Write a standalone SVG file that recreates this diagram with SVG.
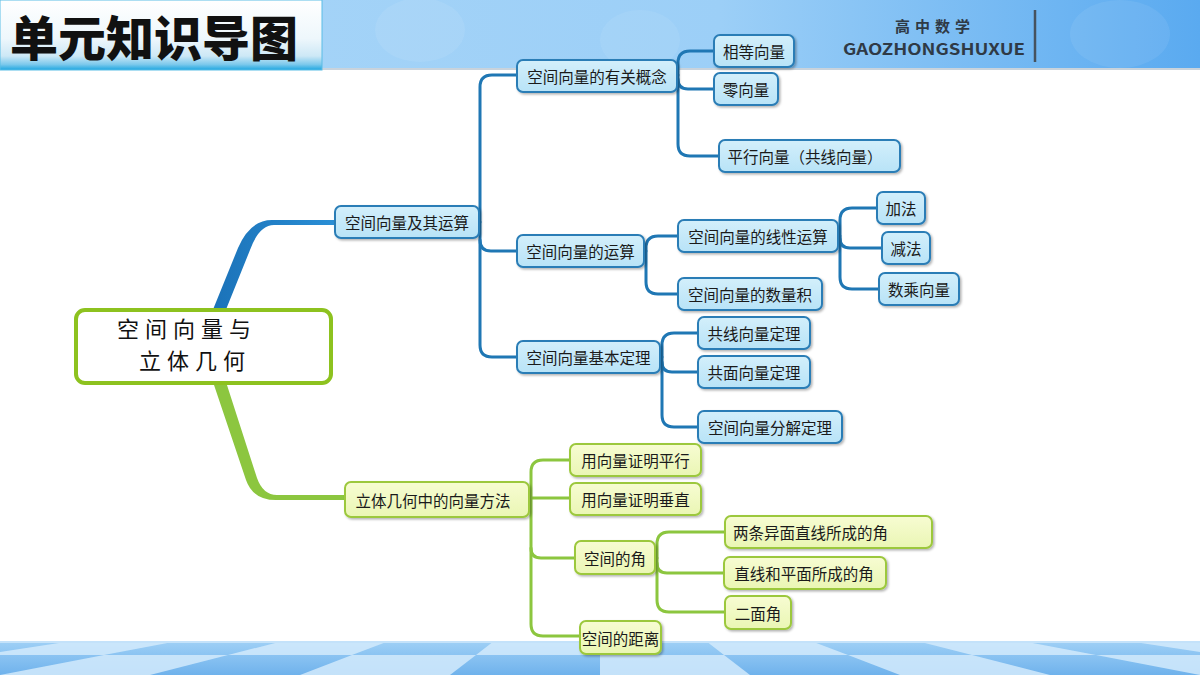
<svg xmlns="http://www.w3.org/2000/svg" width="1200" height="675" viewBox="0 0 1200 675">
<defs>
<linearGradient id="hdr" x1="0" y1="0" x2="1" y2="0">
<stop offset="0" stop-color="#a9d6f8"/><stop offset="0.6" stop-color="#9ccff7"/><stop offset="1" stop-color="#5aaaf0"/>
</linearGradient>
<linearGradient id="ttl" x1="0" y1="0" x2="0" y2="1">
<stop offset="0" stop-color="#ffffff"/><stop offset="0.55" stop-color="#eef7fc"/><stop offset="0.8" stop-color="#cde8f6"/><stop offset="0.92" stop-color="#7cc9ec"/><stop offset="1" stop-color="#1ea6e0"/>
</linearGradient>
<linearGradient id="floor" x1="0" y1="0" x2="0" y2="1">
<stop offset="0" stop-color="#9fd0f6"/><stop offset="1" stop-color="#6fb2ec"/>
</linearGradient>
<linearGradient id="bfill" x1="0" y1="0" x2="0" y2="1">
<stop offset="0" stop-color="#d3effb"/><stop offset="1" stop-color="#b8e3f7"/>
</linearGradient>
<linearGradient id="gfill" x1="0" y1="0" x2="0" y2="1">
<stop offset="0" stop-color="#f7fcd2"/><stop offset="1" stop-color="#eaf6b4"/>
</linearGradient>
<linearGradient id="bbr" x1="0" y1="0" x2="1" y2="0">
<stop offset="0" stop-color="#1b72b8"/><stop offset="1" stop-color="#2a8fd6"/>
</linearGradient>
<filter id="sh" x="-10%" y="-20%" width="130%" height="150%">
<feDropShadow dx="1.5" dy="1.5" stdDeviation="1" flood-color="#000" flood-opacity="0.3"/>
</filter>
</defs>
<style>
.bn rect{fill:url(#bfill);stroke:#2a7db6;stroke-width:2;filter:url(#sh)}
.gn rect{fill:url(#gfill);stroke:#9cc83c;stroke-width:2;filter:url(#sh)}
text{font-family:"Noto Sans CJK SC","Noto Sans",sans-serif}
.bn text,.gn text{font-size:15.5px;fill:#1a1a1a;text-anchor:middle;dominant-baseline:central}
.gn text.l{text-anchor:start}
.bl{fill:none;stroke:#1f77b4;stroke-width:3;stroke-linecap:round}
.gl{fill:none;stroke:#8cc63f;stroke-width:3;stroke-linecap:round}
.tile{fill:#d2eafc;opacity:0.85}
</style>

<!-- header -->
<g id="header">
<rect x="0" y="0" width="1200" height="68" fill="url(#hdr)"/>
<ellipse cx="420" cy="30" rx="45" ry="32" fill="#ffffff" opacity="0.08"/>
<ellipse cx="640" cy="40" rx="40" ry="30" fill="#ffffff" opacity="0.07"/>
<ellipse cx="1120" cy="34" rx="50" ry="34" fill="#ffffff" opacity="0.07"/>
<rect x="0" y="68" width="1200" height="2" fill="#c9d3dc"/>
<rect x="0" y="0" width="322" height="70" fill="url(#ttl)" stroke="#5bbde6" stroke-width="1"/>
<text x="10" y="56" font-size="48" font-weight="900" fill="#111">单元知识导图</text>
<text x="935" y="32" font-size="15" font-weight="bold" fill="#2f3a46" text-anchor="middle" letter-spacing="5">高中数学</text>
<text x="843" y="55" font-size="16" font-weight="bold" fill="#2f3a46" font-family="'Open Sans','Liberation Sans',sans-serif" textLength="182" lengthAdjust="spacingAndGlyphs">GAOZHONGSHUXUE</text>
<line x1="1035" y1="10" x2="1035" y2="62" stroke="#46525e" stroke-width="2.5"/>
</g>

<!-- floor -->
<g id="floor">
<rect x="0" y="641" width="1200" height="34" fill="url(#floor)"/>
<polygon class="tile" points="72,641 178,641 104,655 -20,655"/>
<polygon class="tile" points="283,641 389,641 352,655 228,655"/>
<polygon class="tile" points="494,641 600,641 600,655 476,655"/>
<polygon class="tile" points="706,641 811,641 848,655 724,655"/>
<polygon class="tile" points="917,641 1022,641 1096,655 972,655"/>
<polygon class="tile" points="1128,641 1234,641 1343,655 1220,655"/>
<polygon class="tile" points="104,655 228,655 150,675 0,675"/>
<polygon class="tile" points="352,655 476,655 450,675 300,675"/>
<polygon class="tile" points="600,655 724,655 750,675 600,675"/>
<polygon class="tile" points="848,655 972,655 1050,675 900,675"/>
<polygon class="tile" points="1096,655 1220,655 1350,675 1200,675"/>
<rect x="0" y="641" width="1200" height="2" fill="#c4e2fa"/>
</g>

<!-- connectors -->
<g id="connectors">
<path d="M212 312 L238 248 Q250 220 272 220 L337 220 L337 225 L274 225 Q259 225 250 250 L225 312 Z" fill="url(#bbr)"/>
<path d="M213 382 L246 480 Q253 500 276 500 L346 500 L346 495 L277 495 Q263 495 257 478 L226 382 Z" fill="#8cc63f"/>

<path class="bl" d="M477 222 H480"/>
<path class="bl" d="M517 75 H492 Q480 75 480 87 V345 Q480 357 492 357 H517"/>
<path class="bl" d="M480 240 Q480 251 491 251 H517"/>

<path class="bl" d="M714 51 H690 Q678 51 678 63 V144 Q678 156 690 156 H719"/>
<path class="bl" d="M676 75 H678"/>
<path class="bl" d="M678 79 Q678 89 688 89 H714"/>

<path class="bl" d="M678 236 H658 Q646 236 646 248 V282 Q646 294 658 294 H678"/>
<path class="bl" d="M643 251 H646"/>

<path class="bl" d="M877 208 H852 Q840 208 840 220 V277 Q840 289 852 289 H879"/>
<path class="bl" d="M837 236 H840"/>
<path class="bl" d="M840 238 Q840 248 850 248 H882"/>

<path class="bl" d="M698 333 H674 Q662 333 662 345 V415 Q662 427 674 427 H698"/>
<path class="bl" d="M659 357 H662"/>
<path class="bl" d="M662 362 Q662 372 672 372 H698"/>

<path class="gl" d="M570 460 H543 Q531 460 531 472 V624 Q531 636 543 636 H580"/>
<path class="gl" d="M528 498 H570"/>
<path class="gl" d="M531 548 Q531 558 541 558 H575"/>

<path class="gl" d="M725 532 H669 Q657 532 657 544 V600 Q657 612 669 612 H725"/>
<path class="gl" d="M654 558 H657"/>
<path class="gl" d="M657 563 Q657 573 667 573 H724"/>
</g>

<!-- central node -->
<g id="root">
<rect x="76" y="310" width="255" height="73" rx="9" fill="#ffffff" stroke="#8dc21f" stroke-width="4"/>
<text x="117" y="337" font-size="22" letter-spacing="6" fill="#111">空间向量与</text>
<text x="139" y="369" font-size="22" letter-spacing="6" fill="#111">立体几何</text>
</g>

<!-- blue nodes -->
<g id="n-yunsuan" class="bn"><rect x="335" y="206" width="144" height="32" rx="6"/><text x="407" y="222">空间向量及其运算</text></g>
<g id="n-gainian" class="bn"><rect x="517" y="60" width="160" height="32" rx="6"/><text x="597" y="76">空间向量的有关概念</text></g>
<g id="n-xiangdeng" class="bn"><rect x="714" y="35" width="80" height="32" rx="6"/><text x="754" y="51">相等向量</text></g>
<g id="n-ling" class="bn"><rect x="714" y="73" width="64" height="32" rx="6"/><text x="746" y="89">零向量</text></g>
<g id="n-pingxing" class="bn"><rect x="719" y="140" width="181" height="32" rx="6"/><text x="805" y="156">平行向量（共线向量）</text></g>
<g id="n-yunsuan2" class="bn"><rect x="517" y="235" width="127" height="32" rx="6"/><text x="580.5" y="251">空间向量的运算</text></g>
<g id="n-xianxing" class="bn"><rect x="678" y="220" width="160" height="32" rx="6"/><text x="758" y="236">空间向量的线性运算</text></g>
<g id="n-shuliangji" class="bn"><rect x="678" y="278" width="144" height="32" rx="6"/><text x="750" y="294">空间向量的数量积</text></g>
<g id="n-jiafa" class="bn"><rect x="877" y="192" width="48" height="32" rx="6"/><text x="901" y="208">加法</text></g>
<g id="n-jianfa" class="bn"><rect x="882" y="232" width="48" height="32" rx="6"/><text x="906" y="248">减法</text></g>
<g id="n-shucheng" class="bn"><rect x="879" y="273" width="80" height="32" rx="6"/><text x="919" y="289">数乘向量</text></g>
<g id="n-jiben" class="bn"><rect x="517" y="341" width="143" height="32" rx="6"/><text x="588.5" y="357">空间向量基本定理</text></g>
<g id="n-gongxian" class="bn"><rect x="698" y="317" width="112" height="32" rx="6"/><text x="754" y="333">共线向量定理</text></g>
<g id="n-gongmian" class="bn"><rect x="698" y="356" width="112" height="32" rx="6"/><text x="754" y="372">共面向量定理</text></g>
<g id="n-fenjie" class="bn"><rect x="698" y="411" width="144" height="32" rx="6"/><text x="770" y="427">空间向量分解定理</text></g>

<!-- green nodes -->
<g id="n-fangfa" class="gn"><rect x="345" y="482" width="184" height="35" rx="6"/><text x="433" y="499.5">立体几何中的向量方法</text></g>
<g id="n-pingxingzm" class="gn"><rect x="570" y="444" width="131" height="32" rx="6"/><text x="635.5" y="460">用向量证明平行</text></g>
<g id="n-chuizhi" class="gn"><rect x="570" y="483" width="131" height="32" rx="6"/><text x="635.5" y="499">用向量证明垂直</text></g>
<g id="n-jiao" class="gn"><rect x="575" y="541" width="80" height="33" rx="6"/><text x="615" y="557.5">空间的角</text></g>
<g id="n-juli" class="gn"><rect x="580" y="621" width="81" height="33" rx="6"/><text x="620.5" y="637.5">空间的距离</text></g>
<g id="n-yimian" class="gn"><rect x="725" y="516" width="207" height="32" rx="6"/><text class="l" x="733" y="532">两条异面直线所成的角</text></g>
<g id="n-zhixian" class="gn"><rect x="724" y="557" width="162" height="32" rx="6"/><text x="804" y="573">直线和平面所成的角</text></g>
<g id="n-ermian" class="gn"><rect x="725" y="596" width="66" height="33" rx="6"/><text x="758" y="612.5">二面角</text></g>
</svg>
